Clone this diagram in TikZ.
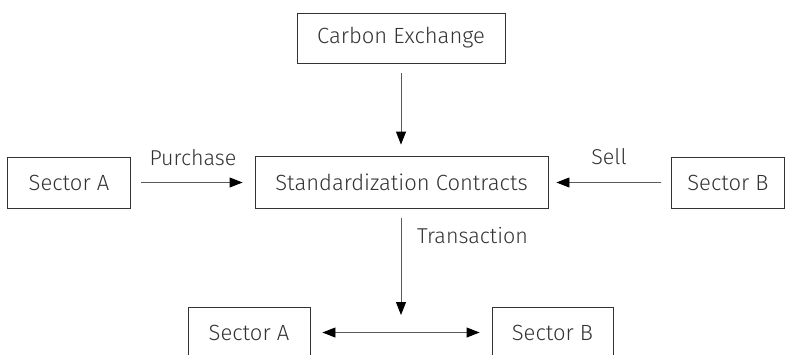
\documentclass[tikz,border=0pt]{standalone}
\usepackage{fontspec}
\setmainfont{Fira Sans Light}
\usetikzlibrary{arrows.meta}
\definecolor{txt}{HTML}{333333}
\definecolor{ln}{HTML}{5a5a5a}
\begin{document}
\begin{tikzpicture}[x=1pt,y=-1pt,
  box/.style={draw=txt,line width=0.9pt,inner sep=0pt,text=txt,
    font=\fontsize{22}{26}\selectfont},
  lbl/.style={text=txt,inner sep=0pt,font=\fontsize{21.5}{26}\selectfont},
  tip/.style={Triangle[length=13pt,width=10pt,fill=black,color=black]},
  arr/.style={draw=ln,line width=0.9pt,-{Triangle[length=13pt,width=10pt,fill=black,color=black]}},
  darr/.style={draw=ln,line width=0.9pt,{Triangle[length=13pt,width=10pt,fill=black,color=black]}-{Triangle[length=13pt,width=10pt,fill=black,color=black]}}]
\useasboundingbox (0,0) rectangle (785,354);
\clip (0,0) rectangle (785,354);
\node[box,minimum width=208pt,minimum height=50pt] (ce) at (401,38) {Carbon Exchange};
\node[box,minimum width=123pt,minimum height=51pt] (sa) at (69,182.5) {Sector A};
\node[box,minimum width=293pt,minimum height=52pt] (sc) at (401.5,182) {Standardization Contracts};
\node[box,minimum width=112.5pt,minimum height=51pt] (sb) at (728,182.5) {Sector B};
\node[box,minimum width=122pt,minimum height=51pt] (ba) at (249,332.5) {Sector A};
\node[box,minimum width=121pt,minimum height=51pt] (bb) at (552.5,332.5) {Sector B};
\coordinate (tend) at (401,315);
\draw[arr,shorten <=10pt,shorten >=11pt] (ce.south) -- (ce.south |- sc.north);
\draw[arr,shorten <=10.5pt,shorten >=12pt] (sa.east) -- (sc.west |- sa.east);
\draw[arr,shorten <=10pt,shorten >=8pt] (sb.west) -- (sc.east |- sb.west);
\draw[arr,shorten <=10pt] (sc.south -| tend) -- (tend);
\draw[darr,shorten <=12pt,shorten >=12pt] (ba.east) -- (bb.west);
\node[lbl] (pu) at (193,158) {Purchase};
\node[lbl] (se) at (609,157) {Sell};
\node[lbl,anchor=west] (tr) at (417,236) {Transaction};
\end{tikzpicture}
\end{document}
